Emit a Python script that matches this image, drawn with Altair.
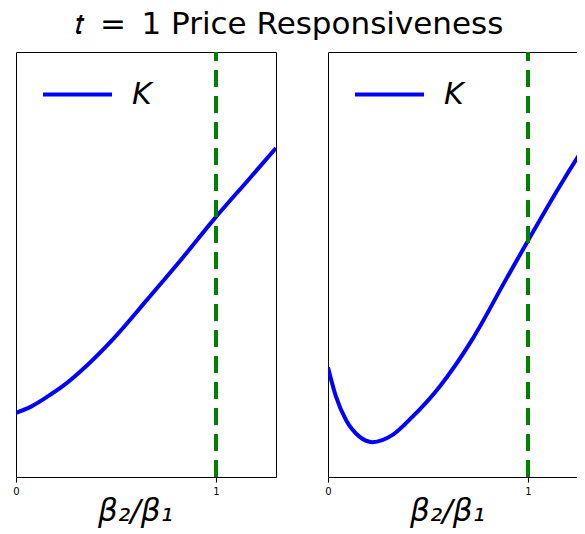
import altair as alt
import pandas as pd

# Left panel: K as function of beta2/beta1 (normalised vertical units)
x_left = [0.0, 0.073, 0.157, 0.24, 0.323, 0.49, 0.657, 0.823, 1.0, 1.156, 1.3]
k_left = [0.151, 0.165, 0.189, 0.216, 0.249, 0.327, 0.418, 0.51, 0.612, 0.696, 0.774]

# Right panel
x_right = [0.0, 0.04, 0.09, 0.157, 0.223, 0.323, 0.423, 0.557, 0.723, 0.89, 1.0, 1.157, 1.282, 1.3]
k_right = [0.258, 0.189, 0.134, 0.095, 0.082, 0.099, 0.142, 0.212, 0.325, 0.465, 0.556, 0.683, 0.777, 0.79]

vline_x = [1.0]
x_ticks = [0, 1]
series_name = "K"

BLUE = "#0000ff"
GREEN = "#008000"
FONT = "DejaVu Sans"


def panel(xs, ks, width, xmax):
    df = pd.DataFrame({"x": xs, "k": ks, "series": [series_name] * len(xs)})
    vdf = pd.DataFrame({"x": vline_x, "y0": [0.0], "y1": [1.0]})
    xscale = alt.Scale(domain=[0, xmax], nice=False, zero=False)
    yscale = alt.Scale(domain=[0, 1], nice=False, zero=False)
    line = alt.Chart(df).mark_line(strokeWidth=4, interpolate="monotone", clip=True).encode(
        x=alt.X("x:Q", scale=xscale,
                axis=alt.Axis(values=x_ticks, title="β₂/β₁", format="d",
                              titleX=119, titleY=43, titleAlign="center",
                              titleBaseline="alphabetic", labelFlush=False)),
        y=alt.Y("k:Q", scale=yscale, axis=None),
        color=alt.Color("series:N",
                        scale=alt.Scale(domain=[series_name], range=[BLUE]),
                        legend=alt.Legend(title=None, orient="none", legendX=25, legendY=6,
                                          symbolType="stroke", symbolSize=4761,
                                          symbolStrokeWidth=4, labelFontSize=30,
                                          labelFont=FONT, labelFontStyle="italic",
                                          labelColor="black", labelOffset=18, padding=0)),
    )
    rule = alt.Chart(vdf).mark_rule(color=GREEN, strokeWidth=4, strokeDash=[17, 9]).encode(
        x="x:Q", y="y0:Q", y2="y1:Q"
    )
    return alt.layer(line, rule).properties(width=width, height=425)


left = panel(x_left, k_left, 260, 1.3)
right = panel(x_right, k_right, 260, 1.3)

chart = (
    alt.hconcat(left, right, spacing=47)
    .resolve_scale(color="independent")
    .resolve_legend(color="independent")
    .properties(
        title=alt.TitleParams("𝑡\u2002=\u20021 Price Responsiveness", fontSize=31, font=FONT,
                              fontWeight="normal", color="black", anchor="middle",
                              dx=-11, offset=9),
        autosize=alt.AutoSizeParams(type="none"),
        padding={"left": 8, "top": 44, "right": 561, "bottom": 474},
    )
    .configure_view(stroke="black", strokeWidth=1)
    .configure_axis(
        domain=False, grid=False, ticks=True, tickColor="black", tickSize=5,
        labelFont=FONT, labelFontSize=10, labelColor="black", labelPadding=4,
        titleFont=FONT, titleFontSize=31, titleFontWeight="normal",
        titleFontStyle="italic", titleColor="black",
    )
)

chart.save("out.html", embed_options={"renderer": "svg", "actions": False})
